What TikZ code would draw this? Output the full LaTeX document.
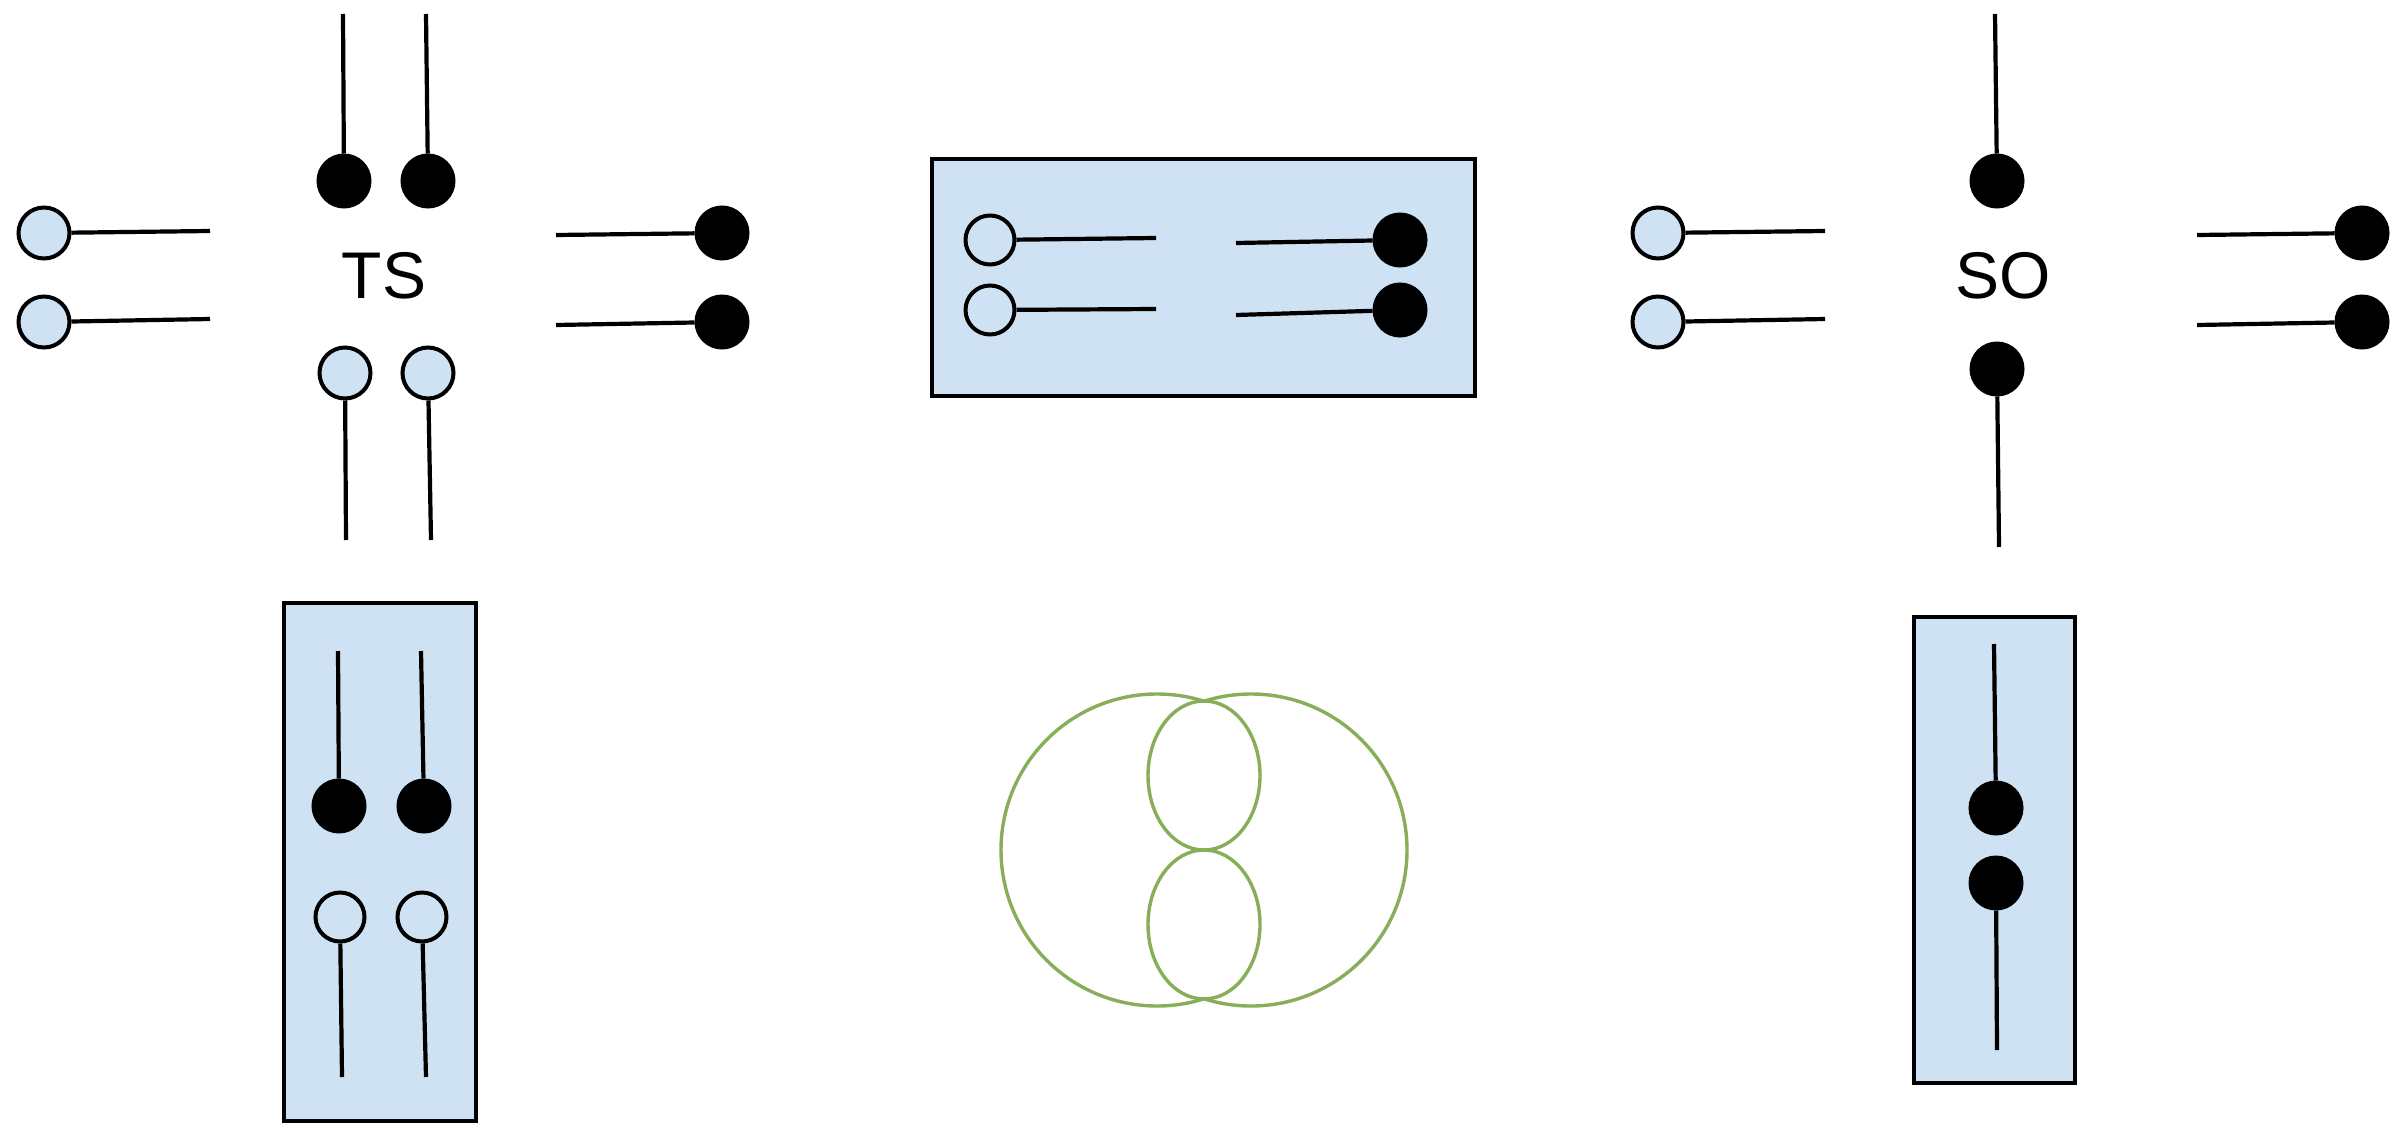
\documentclass[tikz,border=0pt]{standalone}
\usepackage{fontspec}
\setmainfont{Liberation Sans}
\definecolor{paleblue}{HTML}{CFE2F3}
\definecolor{venngreen}{HTML}{88AE5A}
\tikzset{
  wire/.style={line width=4.2pt, draw=black},
  bdot/.style={circle, inner sep=0pt, minimum size=52pt, fill=black, draw=black, line width=3pt},
  ldot/.style={circle, inner sep=0pt, minimum size=51pt, fill=paleblue, draw=black, line width=4pt},
  odot/.style={circle, inner sep=0pt, minimum size=49pt, fill=paleblue, draw=black, line width=4pt},
  panel/.style={rectangle, inner sep=0pt, fill=paleblue, draw=black, line width=4.5pt},
  lbl/.style={font=\fontsize{66}{74}\selectfont, inner sep=0pt},
  ring/.style={draw=venngreen, line width=3.4pt}
}
\begin{document}
\begin{tikzpicture}[x=1pt,y=-1pt]
\useasboundingbox[fill=white] (0,0) rectangle (2406,1126);

% ---------- TS group ----------
\node[lbl] (ts) at (384,276) {TS};
\node[bdot] (tT1) at (344,181) {};
\node[bdot] (tT2) at (428,181) {};
\coordinate (tT1e) at (343,14);
\coordinate (tT2e) at (426,14);
\draw[wire] (tT1) -- (tT1e);
\draw[wire] (tT2) -- (tT2e);

\node[ldot] (tL1) at (44,233) {};
\node[ldot] (tL2) at (44,322) {};
\coordinate (tL1e) at (210,231);
\coordinate (tL2e) at (210,319);
\draw[wire] (tL1) -- (tL1e);
\draw[wire] (tL2) -- (tL2e);

\node[bdot] (tR1) at (722,233) {};
\node[bdot] (tR2) at (722,322) {};
\coordinate (tR1e) at (556,235);
\coordinate (tR2e) at (556,325);
\draw[wire] (tR1) -- (tR1e);
\draw[wire] (tR2) -- (tR2e);

\node[ldot] (tB1) at (345,373) {};
\node[ldot] (tB2) at (428,373) {};
\coordinate (tB1e) at (346,540);
\coordinate (tB2e) at (431,540);
\draw[wire] (tB1) -- (tB1e);
\draw[wire] (tB2) -- (tB2e);

% ---------- TS lower panel ----------
\node[panel, minimum width=192pt, minimum height=518pt] (pTS) at (380,862) {};
\node[bdot] (pK1) at (339,806) {};
\node[bdot] (pK2) at (424,806) {};
\coordinate (pK1e) at (338,651);
\coordinate (pK2e) at (421,651);
\draw[wire] (pK1) -- (pK1e);
\draw[wire] (pK2) -- (pK2e);
\node[odot] (pO1) at (340,917) {};
\node[odot] (pO2) at (422,917) {};
\coordinate (pO1e) at (342,1077);
\coordinate (pO2e) at (426,1077);
\draw[wire] (pO1) -- (pO1e);
\draw[wire] (pO2) -- (pO2e);

% ---------- middle panel ----------
\node[panel, minimum width=543pt, minimum height=237pt] (pMid) at (1203.5,277.5) {};
\node[odot] (mO1) at (990,240) {};
\node[odot] (mO2) at (990,310) {};
\coordinate (mO1e) at (1156,238);
\coordinate (mO2e) at (1156,309);
\draw[wire] (mO1) -- (mO1e);
\draw[wire] (mO2) -- (mO2e);
\node[bdot] (mK1) at (1400,240) {};
\node[bdot] (mK2) at (1400,310) {};
\coordinate (mK1e) at (1236,243);
\coordinate (mK2e) at (1236,315);
\draw[wire] (mK1) -- (mK1e);
\draw[wire] (mK2) -- (mK2e);

% ---------- SO group ----------
\node[lbl] (so) at (2003,276) {SO};
\node[bdot] (sT) at (1997,181) {};
\coordinate (sTe) at (1995,14);
\draw[wire] (sT) -- (sTe);

\node[ldot] (sL1) at (1658,233) {};
\node[ldot] (sL2) at (1658,322) {};
\coordinate (sL1e) at (1825,231);
\coordinate (sL2e) at (1825,319);
\draw[wire] (sL1) -- (sL1e);
\draw[wire] (sL2) -- (sL2e);

\node[bdot] (sR1) at (2362,233) {};
\node[bdot] (sR2) at (2362,322) {};
\coordinate (sR1e) at (2197,235);
\coordinate (sR2e) at (2197,325);
\draw[wire] (sR1) -- (sR1e);
\draw[wire] (sR2) -- (sR2e);

\node[bdot] (sB) at (1997,369) {};
\coordinate (sBe) at (1999,547);
\draw[wire] (sB) -- (sBe);

% ---------- SO lower panel ----------
\node[panel, minimum width=161pt, minimum height=466pt] (pSO) at (1994.5,850) {};
\node[bdot] (qK1) at (1996,808) {};
\node[bdot] (qK2) at (1996,883) {};
\coordinate (qK1e) at (1994,644);
\coordinate (qK2e) at (1997,1050);
\draw[wire] (qK1) -- (qK1e);
\draw[wire] (qK2) -- (qK2e);

% ---------- green rings: outer arcs of two circles, two inner loops ----------
\begin{scope}
  \clip (900,600) rectangle (1204,1100);
  \draw[ring] (1157,850) circle [radius=156];
\end{scope}
\begin{scope}
  \clip (1204,600) rectangle (1500,1100);
  \draw[ring] (1251,850) circle [radius=156];
\end{scope}
\draw[ring] (1204,775.5) ellipse [x radius=56, y radius=74.5];
\draw[ring] (1204,924.5) ellipse [x radius=56, y radius=74.5];
\end{tikzpicture}
\end{document}
